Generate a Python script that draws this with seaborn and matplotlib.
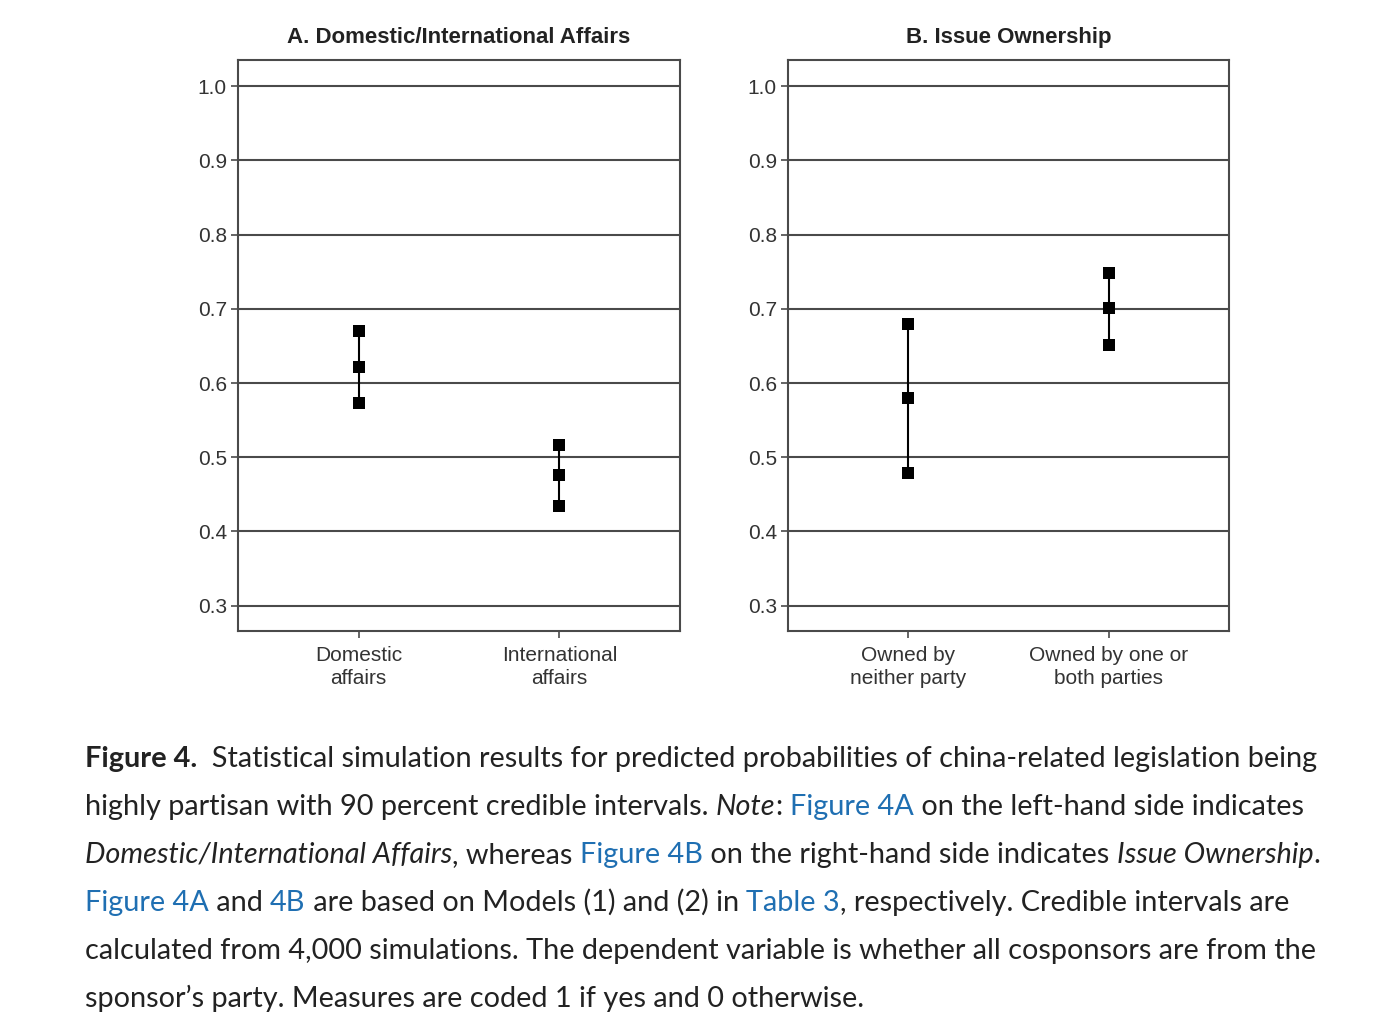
import pandas as pd
import matplotlib
matplotlib.use("Agg")
import matplotlib.pyplot as plt
import seaborn as sns

# Panel A: Domestic/International Affairs
cats_a = ["Domestic\naffairs", "International\naffairs"]
lower_a = [0.573, 0.435]
mid_a = [0.622, 0.476]
upper_a = [0.670, 0.517]

# Panel B: Issue Ownership
cats_b = ["Owned by\nneither party", "Owned by one or\nboth parties"]
lower_b = [0.479, 0.651]
mid_b = [0.580, 0.701]
upper_b = [0.680, 0.748]

titles = ["A. Domestic/International Affairs", "B. Issue Ownership"]
yticks = [0.3, 0.4, 0.5, 0.6, 0.7, 0.8, 0.9, 1.0]

sns.set_theme(style="white")
plt.rcParams['font.family'] = ['Liberation Sans Narrow', 'Liberation Sans', 'DejaVu Sans']

fig = plt.figure(figsize=(13.86, 10.28), dpi=100)
ax_a = fig.add_axes([0.1717, 0.3862, 0.3189, 0.5554])
ax_b = fig.add_axes([0.5685, 0.3862, 0.3182, 0.5554])

grey = "#4a4a4a"
for ax, cats, lo, mi, up, title in [(ax_a, cats_a, lower_a, mid_a, upper_a, titles[0]),
                                    (ax_b, cats_b, lower_b, mid_b, upper_b, titles[1])]:
    df = pd.DataFrame({"cat": cats * 3, "val": lo + mi + up})
    for y in yticks:
        ax.axhline(y, color=grey, lw=1.5, zorder=0)
    # interval line (min-max of the three values); markers come from stripplot
    sns.pointplot(data=df, x="cat", y="val", estimator="median", errorbar=("pi", 100),
                  linestyle="none", markers="none", color="black",
                  err_kws={"linewidth": 1.5}, ax=ax, zorder=3)
    sns.stripplot(data=df, x="cat", y="val", jitter=False, marker="s", size=8.5,
                  color="black", linewidth=0, ax=ax, zorder=4)
    ax.set_xlim(-0.6, 1.6)
    ax.set_ylim(0.266, 1.035)
    ax.set_yticks(yticks)
    ax.set_yticklabels([f"{v:.1f}" for v in yticks])
    ax.set_xlabel("")
    ax.set_ylabel("")
    ax.tick_params(axis="both", which="both", length=5, width=1.2, color=grey,
                   labelsize=15, labelcolor="#333333", left=True, bottom=True, pad=3)
    ax.tick_params(axis="x", pad=6)
    for sp in ax.spines.values():
        sp.set_color(grey)
        sp.set_linewidth(1.5)
    for lbl in ax.get_xticklabels():
        lbl.set_linespacing(1.25)
    ax.set_title(title, fontsize=16, fontweight="bold", color="#222222", pad=12,
                 family=['Liberation Sans', 'DejaVu Sans'])

# caption, laid out segment by segment
blue = "#1f6fb2"
dark = "#222222"
cap_lines = [
    [("Figure 4.", "bold", dark), ("  Statistical simulation results for predicted probabilities of china-related legislation being", "normal", dark)],
    [("highly partisan with 90 percent credible intervals. ", "normal", dark), ("Note", "italic", dark), (": ", "normal", dark),
     ("Figure 4A", "normal", blue), (" on the left-hand side indicates", "normal", dark)],
    [("Domestic/International Affairs", "italic", dark), (", whereas ", "normal", dark), ("Figure 4B", "normal", blue),
     (" on the right-hand side indicates ", "normal", dark), ("Issue Ownership", "italic", dark), (".", "normal", dark)],
    [("Figure 4A", "normal", blue), (" and ", "normal", dark), ("4B", "normal", blue),
     (" are based on Models (1) and (2) in ", "normal", dark), ("Table 3", "normal", blue),
     (", respectively. Credible intervals are", "normal", dark)],
    [("calculated from 4,000 simulations. The dependent variable is whether all cosponsors are from the", "normal", dark)],
    [("sponsor\u2019s party. Measures are coded 1 if yes and 0 otherwise.", "normal", dark)],
]

renderer = fig.canvas.get_renderer()
W, H = 1386, 1028
cap_font = ['Lato', 'DejaVu Sans']


def draw_line(segs, y_px, size):
    x = 85
    texts = []
    for txt, style, col in segs:
        kw = {"fontweight": "bold"} if style == "bold" else {}
        if style == "italic":
            kw["fontstyle"] = "italic"
        t = fig.text(x / W, 1 - y_px / H, txt, fontsize=size, color=col, va="baseline",
                     ha="left", family=cap_font, **kw)
        bb = t.get_window_extent(renderer)
        x = bb.x1
        texts.append(t)
    return x, texts


# scale caption font so the first line spans like the reference
size = 20
end, tmp = draw_line(cap_lines[0], 767, size)
for t in tmp:
    t.remove()
size = size * (1325 - 85) / (end - 85)

for i, segs in enumerate(cap_lines):
    draw_line(segs, 767 + 48 * i, size)

fig.savefig("out.png", dpi=100)
